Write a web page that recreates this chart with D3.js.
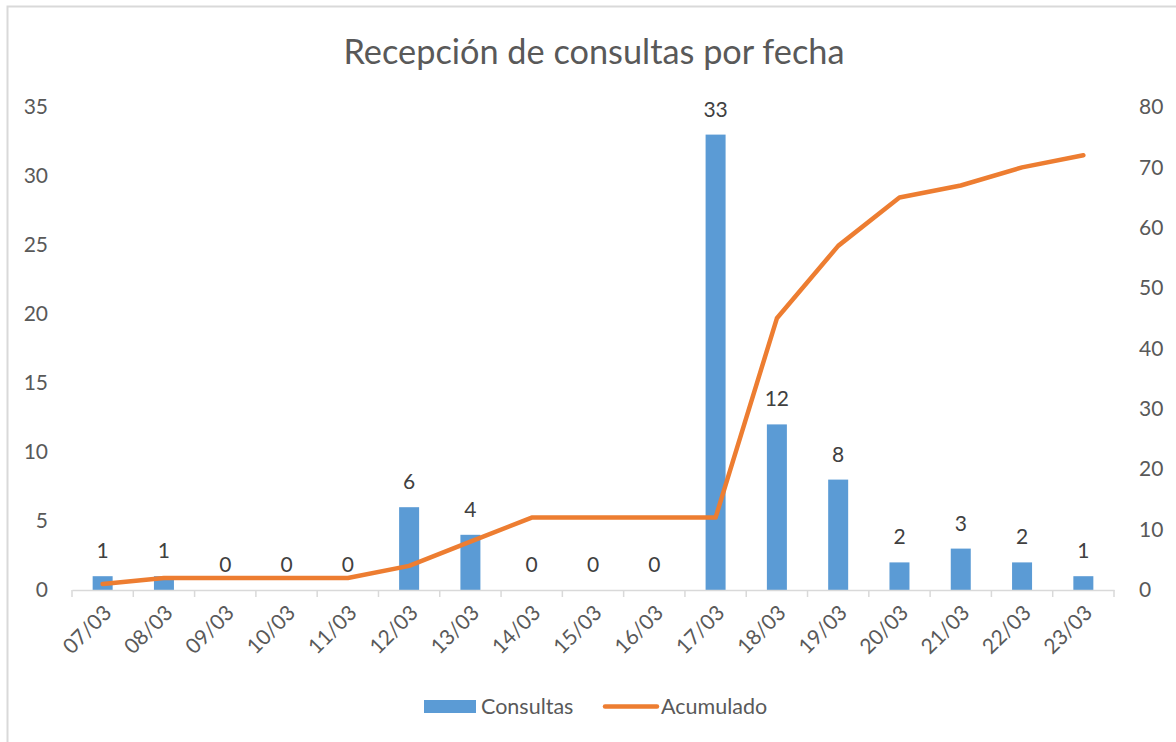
<!DOCTYPE html>
<html><head><meta charset="utf-8">
<script src="https://cdn.jsdelivr.net/npm/d3@7"></script>
<style>body{margin:0;background:#fff;} svg{display:block;} text{font-family:Lato,"Open Sans",sans-serif;}</style>
</head><body>
<script>
const categories = ["07/03","08/03","09/03","10/03","11/03","12/03","13/03","14/03","15/03","16/03","17/03","18/03","19/03","20/03","21/03","22/03","23/03"];
const consultas = [1,1,0,0,0,6,4,0,0,0,33,12,8,2,3,2,1];
const acumulado = [1,2,2,2,2,4,8,12,12,12,12,45,57,65,67,70,72];
const leftTicks = [0,5,10,15,20,25,30,35];
const rightTicks = [0,10,20,30,40,50,60,70,80];

const W = 1176, H = 742, FS = 21;
const svg = d3.select("body").append("svg").attr("width", W).attr("height", H);
svg.append("rect").attr("x",7.5).attr("y",6.5).attr("width",W+10).attr("height",H+10)
  .attr("fill","#fff").attr("stroke","#d9d9d9").attr("stroke-width",2);

const x0 = 72, x1 = 1114, yTop = 107, yBot = 590;
const x = d3.scaleBand().domain(categories).range([x0, x1]);
const yL = d3.scaleLinear().domain([0,35]).range([yBot, yTop]);
const yR = d3.scaleLinear().domain([0,80]).range([yBot, yTop]);

svg.append("text").attr("x",594).attr("y",64).attr("text-anchor","middle")
  .attr("font-size",34.3).attr("fill","#595959").text("Recepción de consultas por fecha");

// left axis
const gl = svg.append("g").attr("transform",`translate(${x0},0)`)
  .call(d3.axisLeft(yL).tickValues(leftTicks).tickSize(0).tickPadding(24));
gl.select(".domain").remove();
gl.selectAll("text").attr("font-size",FS).attr("fill","#595959").attr("font-family","Lato,'Open Sans',sans-serif");

// right axis
const gr = svg.append("g").attr("transform",`translate(${x1},0)`)
  .call(d3.axisRight(yR).tickValues(rightTicks).tickSize(0).tickPadding(25));
gr.select(".domain").remove();
gr.selectAll("text").attr("font-size",FS).attr("fill","#595959").attr("font-family","Lato,'Open Sans',sans-serif");

// bars
const bw = 20;
svg.append("g").selectAll("rect").data(categories).join("rect")
  .attr("x", d => x(d) + x.bandwidth()/2 - bw/2)
  .attr("width", bw)
  .attr("y", (d,i) => yL(consultas[i]))
  .attr("height", (d,i) => yBot - yL(consultas[i]))
  .attr("fill","#5b9bd5");

// x axis
const gx = svg.append("g").attr("transform",`translate(0,${yBot})`)
  .call(d3.axisBottom(x).tickSize(0).tickFormat(""));
gx.select(".domain").attr("stroke","#d9d9d9").attr("stroke-width",1.5);
const bounds = categories.map(c => x(c)).concat([x1]);
svg.append("g").selectAll("line").data(bounds).join("line")
  .attr("x1", d => d).attr("x2", d => d).attr("y1", yBot).attr("y2", yBot+7)
  .attr("stroke","#d9d9d9").attr("stroke-width",1.5);
svg.append("g").selectAll("text").data(categories).join("text")
  .attr("transform", d => `translate(${x(d)+x.bandwidth()/2+5},${yBot+19}) rotate(-45)`)
  .attr("text-anchor","end").attr("dy","0.35em")
  .attr("font-size",FS).attr("fill","#595959").text(d => d);

// line
const line = d3.line().x((d,i) => x(categories[i]) + x.bandwidth()/2).y(d => yR(d));
svg.append("path").datum(acumulado).attr("d", line)
  .attr("fill","none").attr("stroke","#ed7d31").attr("stroke-width",4.5)
  .attr("stroke-linejoin","round").attr("stroke-linecap","round");

// data labels
svg.append("g").selectAll("text").data(categories).join("text")
  .attr("x", d => x(d) + x.bandwidth()/2)
  .attr("y", (d,i) => yL(consultas[i]) - 18)
  .attr("text-anchor","middle").attr("font-size",FS).attr("fill","#404040")
  .text((d,i) => consultas[i]);

// legend
const lg = svg.append("g");
lg.append("rect").attr("x",424).attr("y",700).attr("width",52).attr("height",13).attr("fill","#5b9bd5");
lg.append("text").attr("x",481).attr("y",714).attr("font-size",21.5).attr("fill","#595959").text("Consultas");
lg.append("line").attr("x1",605).attr("x2",657).attr("y1",706.5).attr("y2",706.5)
  .attr("stroke","#ed7d31").attr("stroke-width",4.5).attr("stroke-linecap","round");
lg.append("text").attr("x",661).attr("y",714).attr("font-size",21.5).attr("fill","#595959").text("Acumulado");
</script>
</body></html>
